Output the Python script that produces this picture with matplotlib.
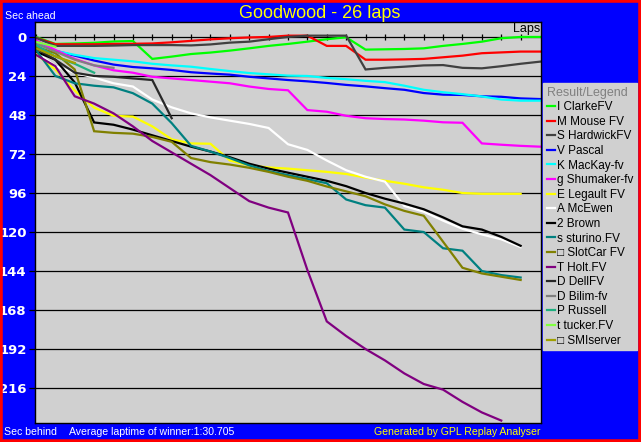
import matplotlib
matplotlib.use("Agg")
import matplotlib.pyplot as plt
from matplotlib.patches import Rectangle

# -------------------------
# Data (seconds relative to winner's average pace, per lap)
# -------------------------
title = "Goodwood - 26 laps"
avg_laptime = "1:30.705"

clarke = [0, 4.3, 4, 3.6, 2.8, 2.5, 13.5, 12.1, 10.5, 9.6, 8.4, 7, 5.5, 4.3, 2.9, 1.4, 0.2,
          7.8, 7.6, 7.4, 7, 5.5, 4.3, 2.9, 0.8, 0, 0]
mouse = [0.5, 4.5, 4.5, 4.5, 4.3, 4.2, 4, 3.3, 2.4, 1.5, 0.8, 0.3, 0, -0.8, -0.8, 5.5, 5.5,
         14, 14, 13.8, 13.5, 12.5, 11.5, 10, 9.5, 9, 9]
hardwick = [0.5, 5.5, 5.5, 5.5, 5.3, 5, 5, 5, 5.2, 4.6, 3.5, 2.9, 1.4, 0, -0.8, -0.8, -0.8,
            20, 19, 18.3, 17.5, 17.3, 19, 19.3, 18, 16.5, 15.2]
pascal = [3, 8.5, 11.5, 14.5, 17, 18.5, 19.3, 20.3, 21.7, 22.5, 23.2, 24.5, 25.5, 26.5, 27.3,
          28.3, 29.5, 30.4, 31.5, 32.5, 34.5, 35.5, 35.7, 36.5, 36.8, 37.8, 38.2]
mackay = [4, 8.5, 11, 13, 14, 15, 16.5, 17.5, 18.3, 19.7, 21, 22.2, 23, 23.8, 24, 25.2, 26,
          27, 27.8, 30, 32.5, 34, 35.2, 36.6, 38.5, 39.2, 39.2]
shumaker = [2, 8, 13.5, 17.5, 20.5, 22, 24.5, 25.5, 26.5, 27.5, 28.5, 30.5, 32, 32.8, 45, 46,
            48.5, 50, 50.5, 50.8, 51.5, 52.5, 52.8, 65.5, 66.3, 67, 67.5]
legault = [10.5, 20, 33, 43.5, 48.5, 49, 55, 63, 65.5, 65.7, 76, 79, 80.3, 81, 82, 83, 84.3,
           86.5, 88.5, 90.3, 92.5, 94, 96, 96.5, 96.5, 96.5]
mcewen = [9, 18, 22, 25, 28.5, 30.5, 38.5, 43.3, 47, 49.5, 51.5, 53.5, 56, 66, 69.5, 76, 82,
          86, 89, 104, 107.5, 113, 118, 121.5, 124.5, 129.3]
brown = [9, 14, 28, 52.6, 54, 57, 60.5, 64, 67.5, 70.5, 74, 78, 81, 83.5, 86, 88.5, 91.8,
         96, 99.5, 102.5, 106, 111, 116.5, 118.5, 123, 128.5]
sturino = [8, 24, 28.5, 30, 31, 34.6, 41, 53, 67, 70.5, 74.5, 79, 82.5, 85, 87.5, 90, 100,
           103.5, 105, 118.5, 120, 130, 131.5, 144, 146.5, 148]
slotcar = [6, 10, 20, 58, 59, 59.5, 61.5, 64.5, 74.5, 77, 78.5, 80.5, 83, 86, 88.5, 92, 95,
           98, 103, 107, 110, 126, 142, 145.5, 147.5, 149.5]
holt = [11, 18, 36.5, 41, 47, 55, 64, 71, 78, 85, 93, 101, 105, 108, 143.4, 175, 184, 192,
        199, 207, 213.5, 217, 224.5, 231, 236]
dell = [7, 14, 22, 24, 24.5, 25.5, 26.5, 50]
bilim = [4, 9, 14, 17.5, 19]
russell = [5, 12, 16.5, 22]
tucker = [3, 6]
smiserver = [7, 12, 16]

drivers = ["I ClarkeFV", "M Mouse FV", "S HardwickFV", "V Pascal", "K MacKay-fv",
           "g Shumaker-fv", "E Legault FV", "A McEwen", "2 Brown", "s sturino.FV",
           "\u25a1 SlotCar FV", "T Holt.FV", "D DellFV", "D Bilim-fv", "P Russell",
           "t tucker.FV", "\u25a1 SMIserver"]
series = [clarke, mouse, hardwick, pascal, mackay, shumaker, legault, mcewen, brown,
          sturino, slotcar, holt, dell, bilim, russell, tucker, smiserver]
colors = ["#00ff00", "#ff0000", "#404040", "#0000ff", "#00ffff", "#ff00ff", "#ffff00",
          "#ffffff", "#000000", "#008080", "#808000", "#800080", "#282828", "#808080",
          "#20b080", "#80ff40", "#a0a000"]

# -------------------------
# Figure layout
# -------------------------
W, H = 641, 442
fig = plt.figure(figsize=(W / 100, H / 100), dpi=100)
fig.patch.set_facecolor("#0000ff")
fig.patches.append(Rectangle((0, 0), 1, 1, transform=fig.transFigure, fill=False,
                             edgecolor="#ff0000", linewidth=4, zorder=10))

ax = fig.add_axes([35 / W, 1 - 423 / H, (541 - 35) / W, (423 - 22) / H])
ax.set_facecolor("#d0d0d0")

for vals, name, col in zip(series, drivers, colors):
    ax.plot(range(len(vals)), vals, color=col, lw=1.6, label=name, solid_joinstyle="miter")

ax.set_xlim(-0.05, 26.05)
ax.set_ylim(237.5, -9.2)

# horizontal grid + y labels
ax.set_yticks(range(0, 217, 24))
ax.yaxis.grid(True, color="black", lw=0.9)
ax.set_axisbelow(True)
ax.tick_params(axis="y", length=4, width=0.9, color="black", labelcolor="white",
               labelsize=9.5, pad=2)
for lab in ax.get_yticklabels():
    lab.set_fontweight("bold")
ax.set_xticks([])

# lap ticks on the zero line
ax.vlines(range(0, 26), -1.8, 1.8, color="black", lw=0.9, zorder=1)
ax.text(26, -1.2, "Laps", ha="right", va="bottom", fontsize=9, color="black",
        family="Liberation Sans")

for sp in ax.spines.values():
    sp.set_color("black")
    sp.set_linewidth(1)

# -------------------------
# Texts
# -------------------------
small = dict(fontsize=7.6, family="Liberation Sans")
fig.text(320 / W, 1 - 13 / H, title, ha="center", va="center", color="#ffff00",
         fontsize=13, family="Liberation Sans")
fig.text(5 / W, 1 - 16 / H, "Sec ahead", ha="left", va="center", color="white", **small)
fig.text(4 / W, 1 - 432 / H, "Sec behind", ha="left", va="center", color="white", **small)
fig.text(69 / W, 1 - 432 / H, "Average laptime of winner:" + avg_laptime, ha="left",
         va="center", color="white", **small)
fig.text(541 / W, 1 - 432 / H, "Generated by GPL Replay Analyser", ha="right",
         va="center", color="#ffff00", **small)

# -------------------------
# Legend
# -------------------------
leg = fig.legend(loc="upper left", bbox_to_anchor=(543 / W, 1 - 83 / H),
                 frameon=True, fancybox=False, facecolor="#d0d0d0", edgecolor="#d0d0d0",
                 framealpha=1, borderaxespad=0, borderpad=0.3, handlelength=0.7,
                 handletextpad=0.2, labelspacing=0.22,
                 prop={"family": ["Liberation Sans", "DejaVu Sans"], "size": 8.5},
                 title="Result/Legend",
                 title_fontproperties={"family": "Liberation Sans", "size": 9},
                 alignment="left")
leg.get_title().set_color("#808080")

fig.savefig("out.png", dpi=100, facecolor=fig.get_facecolor())
